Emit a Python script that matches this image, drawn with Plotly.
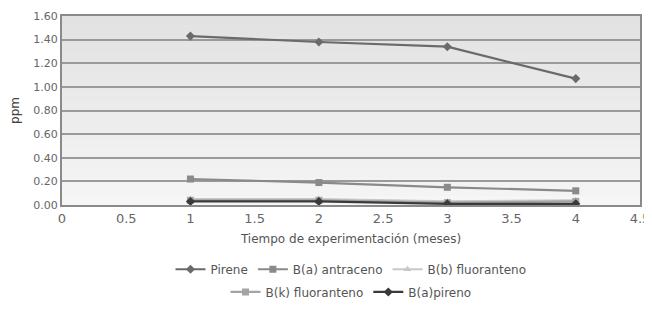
import plotly.graph_objects as go

meses = [1, 2, 3, 4]
pirene = [1.43, 1.38, 1.34, 1.07]
b_a_antraceno = [0.22, 0.19, 0.15, 0.12]
b_b_fluoranteno = [0.05, 0.05, 0.03, 0.04]
b_k_fluoranteno = [0.04, 0.04, 0.02, 0.03]
b_a_pireno = [0.03, 0.03, 0.01, 0.01]

series = [
    ("Pirene", pirene, "#6a6a6a", "diamond", "legend"),
    ("B(a) antraceno", b_a_antraceno, "#8a8a8a", "square", "legend"),
    ("B(b) fluoranteno", b_b_fluoranteno, "#c8c8c8", "triangle-up", "legend"),
    ("B(k) fluoranteno", b_k_fluoranteno, "#a4a4a4", "square", "legend2"),
    ("B(a)pireno", b_a_pireno, "#3a3a3a", "diamond", "legend2"),
]

fig = go.Figure()
for name, vals, col, sym, lg in series:
    fig.add_trace(go.Scatter(x=meses, y=vals, name=name, mode="lines+markers",
                             line=dict(color=col, width=2.2), legend=lg,
                             marker=dict(color=col, symbol=sym, size=7)))

# gradient background bands
shapes = []
n = 20
for i in range(n):
    g = int(0xe2 + (0xf6 - 0xe2) * (1 - i / (n - 1)))
    shapes.append(dict(type="rect", xref="paper", yref="paper", x0=0, x1=1,
                       y0=i / n, y1=(i + 1) / n, fillcolor=f"rgb({g},{g},{g})",
                       line=dict(width=0), layer="below"))

FAM = "DejaVu Sans, Liberation Sans, Arial"
legfont = dict(size=12, color="#555555", family=FAM)
fig.update_layout(
    width=644, height=305,
    margin=dict(l=54, r=12, t=8, b=108, autoexpand=False),
    paper_bgcolor="white", plot_bgcolor="#eeeeee",
    font=dict(family=FAM, size=12, color="#555555"),
    shapes=shapes,
    showlegend=True,
    legend=dict(orientation="h", x=0.5, xanchor="center", y=-0.34, yanchor="middle",
                font=legfont, itemwidth=30, bgcolor="rgba(0,0,0,0)"),
    legend2=dict(orientation="h", x=0.5, xanchor="center", y=-0.46, yanchor="middle",
                 font=legfont, itemwidth=30, bgcolor="rgba(0,0,0,0)"),
    xaxis=dict(range=[0, 4.5], tickvals=[0, 0.5, 1, 1.5, 2, 2.5, 3, 3.5, 4, 4.5],
               ticktext=["0", "0.5", "1", "1.5", "2", "2.5", "3", "3.5", "4", "4.5"],
               ticklabeloverflow="allow",
               showgrid=False, showline=True, linecolor="#8a8a8a", linewidth=2,
               mirror=True, zeroline=False, tickfont=dict(size=13, color="#666666"),
               title=dict(text="Tiempo de experimentación (meses)", font=dict(size=12, color="#555555"), standoff=10)),
    yaxis=dict(range=[0, 1.6], dtick=0.2, tickformat=".2f", showgrid=True,
               ticklabeloverflow="allow",
               gridcolor="#9a9a9a", gridwidth=1.5, showline=True, linecolor="#8a8a8a",
               linewidth=2, mirror=True, zeroline=False, tickfont=dict(size=11, color="#666666"),
               title=dict(text="ppm", font=dict(size=12, color="#444444"), standoff=12)),
)

fig.write_html("out.html")
